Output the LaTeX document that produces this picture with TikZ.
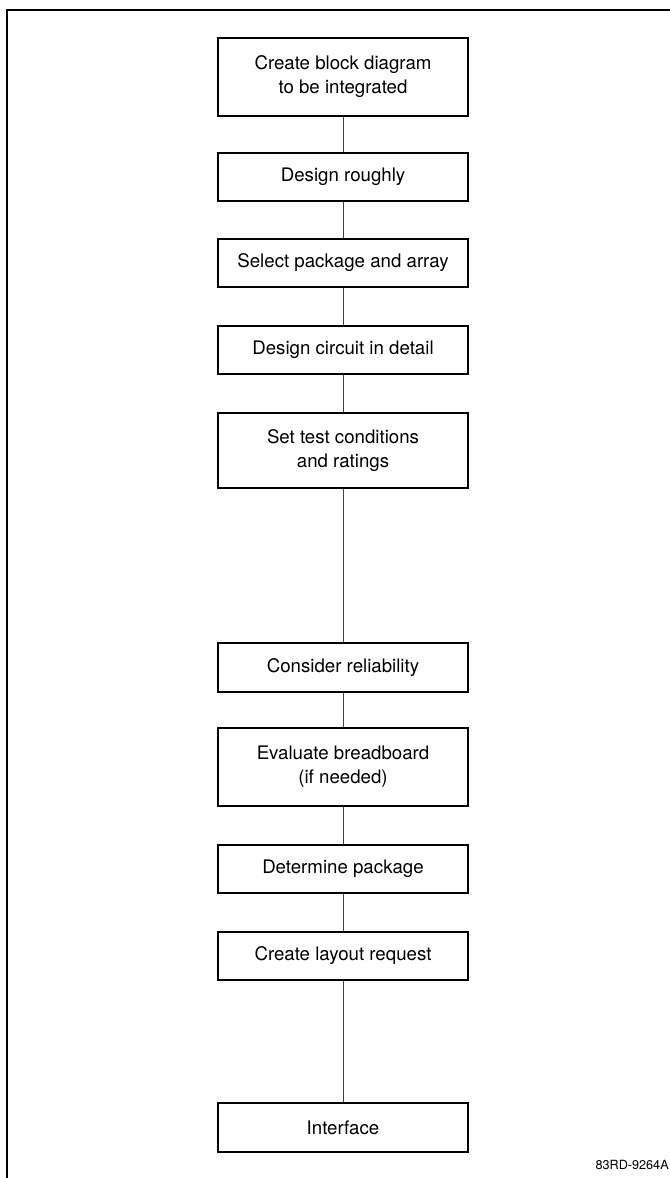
\documentclass[tikz,border=0pt]{standalone}
\usepackage{fontspec}
\setmainfont{TeX Gyre Heros}
\begin{document}
\begin{tikzpicture}[x=0.75pt,y=-0.75pt,
  stepbox/.style={draw, line width=1.5pt, rectangle, inner sep=0pt,
    minimum width=187.5pt, minimum height=36pt, align=center,
    font=\fontsize{14}{18}\selectfont},
  tallbox/.style={stepbox, minimum height=58pt},
  link/.style={line width=0.6pt, draw=black!75},
  frameline/.style={line width=1.1pt}]
\useasboundingbox (0,0) rectangle (670,1178);
\fill[white] (0,0) rectangle (670,1178);
% frame
\coordinate (fb) at (7,1178);
\coordinate (fc) at (7,10);
\coordinate (fr) at (670,10);
\draw[frameline] (fb) -- (fc) -- (fr);
% boxes
\node[tallbox] (b1) at (343,77) {Create block diagram\\to be integrated};
\node[stepbox] (b2) at (343,177) {Design roughly};
\node[stepbox] (b3) at (343,263) {Select package and array};
\node[stepbox] (b4) at (343,350) {Design circuit in detail};
\node[stepbox, minimum height=56.25pt] (b5) at (343,450.5) {Set test conditions\\and ratings};
\node[stepbox, minimum height=36.75pt] (b6) at (343,667.5) {Consider reliability};
\node[tallbox] (b7) at (343,767) {Evaluate breadboard\\(if needed)};
\node[stepbox] (b8) at (343,869) {Determine package};
\node[stepbox] (b9) at (343,956) {Create layout request};
\node[stepbox, minimum height=36.75pt] (b10) at (343,1127.5) {Interface};
% connectors
\foreach \a/\b in {b1/b2,b2/b3,b3/b4,b4/b5,b5/b6,b6/b7,b7/b8,b8/b9,b9/b10}
  \draw[link] (\a.south) -- (\b.north);
% figure number
\node[anchor=east, inner sep=0pt, font=\fontsize{9.5}{11}\selectfont] (fig) at (669,1165) {83RD-9264A};
\end{tikzpicture}
\end{document}
